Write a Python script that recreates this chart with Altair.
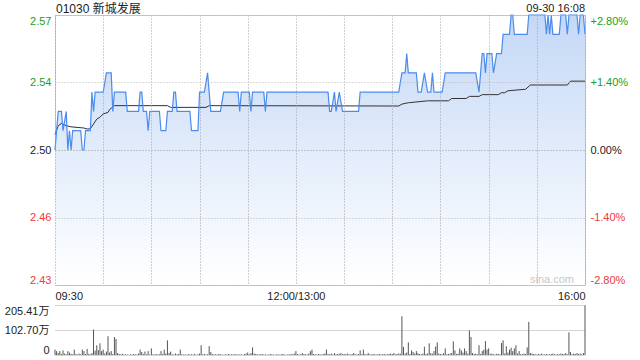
import altair as alt
import pandas as pd

# ---------------- data ----------------
# trading minutes since 09:30 (lunch 12:00-13:00 removed), 0..330
price_minute = [0, 2, 4, 5, 7, 8, 9, 10, 11, 16, 17, 18, 19, 22, 23, 24, 25, 30, 32, 35,
                36, 37, 44, 45, 52, 53, 54, 55, 57, 58, 59, 65, 66, 69, 70, 73, 74, 75, 76, 84,
                85, 89, 90, 93, 95, 97, 103, 105, 114, 115, 116, 121, 122, 123, 130, 131, 132, 170, 171, 172,
                174, 175, 177, 179, 189, 190, 214, 216, 218, 219, 220, 225, 226, 228, 230, 232, 234, 235, 236, 241,
                243, 262, 264, 266, 267, 268, 269, 272, 273, 275, 278, 279, 283, 284, 285, 286, 294, 295, 305, 306,
                307, 308, 309, 310, 314, 315, 318, 319, 320, 325, 326, 327, 329, 330]
price_value = [2.50, 2.52, 2.52, 2.51, 2.52, 2.50, 2.51, 2.50, 2.51, 2.51, 2.50, 2.50, 2.51, 2.51, 2.53, 2.52, 2.53, 2.53, 2.54, 2.54,
               2.52, 2.53, 2.53, 2.52, 2.52, 2.53, 2.53, 2.52, 2.52, 2.51, 2.52, 2.52, 2.51, 2.51, 2.52, 2.52, 2.53, 2.53, 2.52, 2.52,
               2.51, 2.51, 2.53, 2.53, 2.54, 2.52, 2.52, 2.53, 2.53, 2.52, 2.53, 2.53, 2.52, 2.53, 2.53, 2.52, 2.53, 2.53, 2.52, 2.52,
               2.53, 2.52, 2.53, 2.52, 2.52, 2.53, 2.53, 2.54, 2.54, 2.55, 2.54, 2.54, 2.53, 2.53, 2.54, 2.53, 2.53, 2.54, 2.53, 2.53,
               2.54, 2.54, 2.53, 2.55, 2.55, 2.54, 2.55, 2.55, 2.54, 2.55, 2.55, 2.56, 2.56, 2.57, 2.57, 2.56, 2.56, 2.57, 2.57, 2.56,
               2.57, 2.56, 2.57, 2.56, 2.56, 2.57, 2.57, 2.56, 2.57, 2.57, 2.56, 2.57, 2.57, 2.56]

avg_minute = [0, 2, 4, 7, 10, 18, 20, 22, 24, 26, 28, 30, 33, 34, 37, 70, 72, 94, 96, 214,
              216, 220, 232, 245, 247, 256, 258, 264, 266, 276, 278, 280, 282, 293, 296, 319, 321, 330]
avg_value = [2.5080, 2.5126, 2.5138, 2.5126, 2.5120, 2.5114, 2.5109, 2.5110, 2.5135, 2.5160,
             2.5170, 2.5187, 2.5195, 2.5210, 2.5230, 2.5230, 2.5221, 2.5221, 2.5230, 2.5228,
             2.5238, 2.5245, 2.5255, 2.5255, 2.5267, 2.5267, 2.5278, 2.5278, 2.5287, 2.5287,
             2.5297, 2.5297, 2.5307, 2.5315, 2.5337, 2.5337, 2.5357, 2.5357]

# volume per minute, in 万 (minute 0 .. 330)
volume_wan = [
    22, 16, 8, 16, 4, 19, 6, 3, 16, 10,
    5, 3, 22, 4, 2, 6, 3, 22, 16, 4,
    25, 5, 3, 8, 105, 18, 40, 20, 48, 16,
    22, 6, 14, 77, 10, 16, 4, 74, 66, 8,
    4, 3, 5, 2, 3, 2, 1, 3, 2, 4,
    3, 2, 6, 22, 12, 4, 14, 3, 16, 2,
    27, 3, 2, 4, 2, 3, 16, 4, 22, 6,
    60, 8, 14, 3, 2, 6, 3, 4, 22, 3,
    2, 3, 1, 4, 2, 3, 2, 5, 1, 3,
    6, 40, 3, 4, 2, 3, 36, 12, 4, 2,
    3, 2, 4, 3, 2, 1, 3, 2, 4, 2,
    3, 2, 4, 2, 3, 2, 3, 1, 4, 6,
    10, 3, 8, 31, 6, 4, 3, 2, 3, 4,
    2, 3, 1, 2, 4, 3, 2, 1, 3, 2,
    2, 3, 4, 2, 1, 3, 2, 4, 3, 6,
    16, 4, 2, 3, 8, 4, 3, 2, 6, 16,
    22, 4, 3, 2, 4, 3, 2, 4, 6, 22,
    4, 3, 6, 2, 8, 3, 4, 5, 8, 3,
    4, 3, 6, 3, 2, 4, 8, 3, 2, 4,
    19, 3, 22, 4, 2, 8, 3, 2, 4, 3,
    2, 3, 4, 2, 3, 4, 2, 3, 4, 6,
    4, 8, 3, 4, 6, 5, 159, 33, 6, 10,
    52, 4, 19, 12, 6, 16, 8, 4, 3, 6,
    34, 4, 6, 48, 8, 5, 16, 35, 52, 6,
    4, 3, 8, 27, 3, 4, 6, 8, 56, 19,
    4, 6, 27, 19, 10, 27, 16, 6, 101, 74,
    8, 4, 6, 3, 40, 4, 16, 22, 57, 22,
    27, 4, 6, 3, 2, 5, 4, 3, 49, 60,
    6, 36, 10, 22, 30, 16, 27, 40, 6, 16,
    4, 3, 6, 4, 31, 136, 8, 6, 4, 3,
    2, 4, 3, 6, 2, 3, 4, 2, 3, 4,
    6, 3, 2, 4, 3, 6, 4, 4, 8, 3,
    93, 12, 3, 6, 4, 8, 4, 6, 3, 8,
    204,
]

title_text = "01030 新城发展"
stamp_text = "09-30 16:08"
watermark_text = "sina.com"

price_ticks = [2.43, 2.465, 2.50, 2.535, 2.57]
price_tick_labels = ["2.43", "2.46", "2.50", "2.54", "2.57"]
pct_tick_labels = ["-2.80%", "-1.40%", "0.00%", "+1.40%", "+2.80%"]
time_ticks = [0, 30, 60, 90, 120, 150, 180, 210, 240, 270, 300, 330]
time_label_ticks = [0, 150, 330]
time_labels = ["09:30", "12:00/13:00", "16:00"]
vol_ticks = [0, 102.70, 205.41]
vol_tick_labels = ["0", "102.70万", "205.41万"]

# ---------------- styling ----------------
FONT = "Liberation Sans, Arial, Noto Sans CJK SC"
GREEN = "#1a9f1a"
RED = "#ee3b3b"
TEXT = "#222222"
GRID = "#b8b8b8"
VGRID = "#a0a0a0"
BLUE = "#4a8bef"


def label_expr(values, labels):
    parts = [f"abs(datum.value - {v}) < 1e-6 ? '{l}'" for v, l in zip(values, labels)]
    return " : ".join(parts) + " : ''"


price_df = pd.DataFrame({"minute": price_minute, "price": price_value})
avg_df = pd.DataFrame({"minute": avg_minute, "avg": avg_value})
vol_df = pd.DataFrame({"minute": list(range(len(volume_wan))), "vol": volume_wan})

x_scale = alt.Scale(domain=[0, 330], nice=False, zero=False)
y_dom = [2.43, 2.57]

label_color = {
    "condition": [
        {"test": "datum.value > 2.501", "value": GREEN},
        {"test": "datum.value < 2.499", "value": RED},
    ],
    "value": TEXT,
}

x_axis = alt.Axis(
    values=time_ticks,
    labelExpr=label_expr(time_label_ticks, time_labels),
    grid=True, gridColor=VGRID, gridOpacity=1, gridWidth=1, gridDash=[1, 2],
    ticks=False, domain=False,
    labelFlush=True, labelOverlap=False, labelPadding=5, labelFontSize=11,
    labelColor=TEXT, labelFont=FONT, title=None, zindex=1,
)

left_axis = alt.Axis(
    values=price_ticks,
    labelExpr=label_expr(price_ticks, price_tick_labels),
    grid=True,
    gridColor={"condition": {"test": "abs(datum.value - 2.5) < 1e-6", "value": "#999999"}, "value": GRID},
    gridOpacity=1, gridDash=[1, 2], ticks=False, domain=False,
    labelFlush=True, labelOverlap=False, labelPadding=4, labelFontSize=11,
    labelColor=label_color, labelFont=FONT, title=None, zindex=1,
)

right_axis = alt.Axis(
    orient="right",
    values=price_ticks,
    labelExpr=label_expr(price_ticks, pct_tick_labels),
    grid=False, ticks=False, domain=False,
    labelFlush=True, labelOverlap=False, labelPadding=5, labelFontSize=11,
    labelColor=label_color, labelFont=FONT, title=None,
)

gradient = alt.Gradient(
    gradient="linear",
    stops=[alt.GradientStop(color="#c4d8f6", offset=0),
           alt.GradientStop(color="#ffffff", offset=1)],
    x1=1, x2=1, y1=0, y2=1,
)

X = alt.X("minute:Q", scale=x_scale, axis=x_axis)

area = alt.Chart(price_df).mark_area(color=gradient, opacity=1).encode(
    x=X,
    y=alt.Y("price:Q", scale=alt.Scale(domain=y_dom, nice=False, zero=False), axis=left_axis),
    y2=alt.datum(2.43),
)

avg_line = alt.Chart(avg_df).mark_line(color="#333333", strokeWidth=1).encode(
    x=X,
    y=alt.Y("avg:Q", scale=alt.Scale(domain=y_dom, nice=False, zero=False), axis=None),
)

price_line = alt.Chart(price_df).mark_line(color=BLUE, strokeWidth=1.2).encode(
    x=X,
    y=alt.Y("price:Q", scale=alt.Scale(domain=y_dom, nice=False, zero=False), axis=right_axis),
)

watermark = alt.Chart(pd.DataFrame({"t": [watermark_text]})).mark_text(
    align="right", baseline="middle", fontSize=11, font=FONT, color="#c8c8c8"
).encode(text="t:N", x=alt.value(519), y=alt.value(265))

title_mark = alt.Chart(pd.DataFrame({"t": [title_text]})).mark_text(
    align="left", baseline="middle", fontSize=12, font=FONT, color=TEXT
).encode(text="t:N", x=alt.value(1), y=alt.value(-6))

stamp = alt.Chart(pd.DataFrame({"t": [stamp_text]})).mark_text(
    align="right", baseline="middle", fontSize=11, font=FONT, color=TEXT
).encode(text="t:N", x=alt.value(530), y=alt.value(-6))

price_chart = alt.layer(area, avg_line, price_line, watermark, title_mark, stamp).resolve_scale(
    y="independent"
).properties(
    width=530, height=270,
    view=alt.ViewBackground(stroke="#c8c8c8", strokeWidth=1),
)

vol_axis = alt.Axis(
    values=vol_ticks,
    labelExpr=label_expr(vol_ticks, vol_tick_labels),
    grid=True, gridColor="#aaaaaa", gridDash=[1, 1], ticks=False, domain=False,
    labelFlush=True, labelOverlap=False, labelPadding=6, labelFontSize=11,
    labelColor=TEXT, labelFont=FONT, title=None,
)

vol_chart = alt.Chart(vol_df).mark_rule(color="#555555", strokeWidth=1).encode(
    x=alt.X("minute:Q", scale=x_scale, axis=None),
    y=alt.Y("vol:Q", scale=alt.Scale(domain=[0, 205.41], nice=False, zero=True), axis=vol_axis),
    y2=alt.datum(0),
).properties(
    width=530, height=50,
    view=alt.ViewBackground(strokeOpacity=0),
)

chart = alt.vconcat(price_chart, vol_chart, spacing=20, bounds="flush").properties(
    padding={"left": 4, "top": 2, "right": 0, "bottom": 0},
    background="white",
)

chart.save("out.html", embed_options={"renderer": "svg", "actions": False})
